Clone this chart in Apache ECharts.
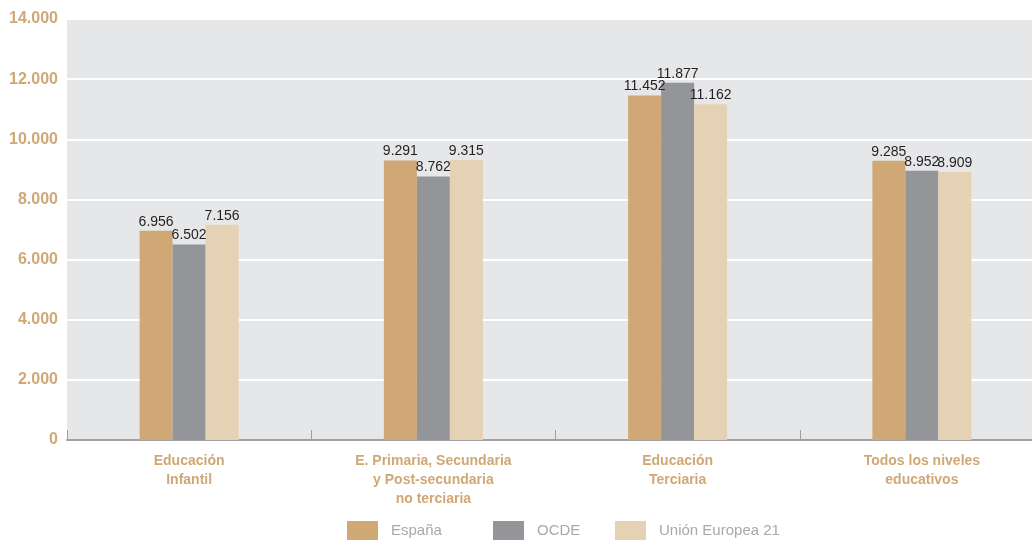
<!DOCTYPE html>
<html><head><meta charset="utf-8">
<script src="https://cdn.jsdelivr.net/npm/echarts@6/dist/echarts.min.js"></script>
<style>html,body{margin:0;padding:0;background:#fff;overflow:hidden}#c{width:1044px;height:540px}</style>
</head><body><div id="c"></div>
<script>
const categories = ["Educación\nInfantil", "E. Primaria, Secundaria\ny Post-secundaria\nno terciaria", "Educación\nTerciaria", "Todos los niveles\neducativos"];
const espana = [6956, 9291, 11452, 9285];
const ocde = [6502, 8762, 11877, 8952];
const ue21 = [7156, 9315, 11162, 8909];
const seriesNames = ["España", "OCDE", "Unión Europea 21"];
const yTicks = [0, 2000, 4000, 6000, 8000, 10000, 12000, 14000];

const FONT = '"Liberation Sans Narrow", "Arial Narrow", "Liberation Sans", Arial, sans-serif';
const fmt = v => String(v).replace(/\B(?=(\d{3})+(?!\d))/g, '.');
const colors = ['#cfa875', '#939598', '#e5d2b4'];
const legendLefts = [347, 493, 615];

const chart = echarts.init(document.getElementById('c'));
const mk = (name, data, i) => ({
  name, type: 'bar', data, barWidth: 33, barGap: '0%',
  itemStyle: { color: colors[i] },
  label: { show: true, position: 'top', distance: 2, color: '#231f20', fontSize: 14, fontFamily: FONT,
    formatter: p => fmt(p.value) }
});
chart.setOption({
  animation: false,
  grid: { left: 67, right: 0, top: 19, bottom: 100, show: true, backgroundColor: '#e6e7e8', borderWidth: 0 },
  legend: seriesNames.map((n, i) => ({
    top: 521, left: legendLefts[i], padding: 0, itemWidth: 31, itemHeight: 20, icon: 'rect',
    textStyle: { color: '#a7a9ac', fontSize: 15, fontFamily: FONT, padding: [10, 0, 0, 8] },
    data: [n] })),
  xAxis: { type: 'category', data: categories,
    axisLine: { lineStyle: { color: '#a0a0a0', width: 2 } },
    axisTick: { show: true, inside: true, length: 10, lineStyle: { color: '#a0a0a0', width: 1 } },
    axisLabel: { color: '#cfa875', fontWeight: 'bold', fontSize: 14, fontFamily: FONT, lineHeight: 19, margin: 12 } },
  yAxis: { type: 'value', min: 0, max: 14000, interval: 2000,
    axisLine: { show: false }, axisTick: { show: false },
    splitLine: { lineStyle: { color: '#ffffff', width: 2 } },
    axisLabel: { color: '#cfa875', fontWeight: 'bold', fontSize: 16, fontFamily: FONT, margin: 9,
      formatter: v => yTicks.includes(v) ? fmt(v) : '' } },
  series: [mk(seriesNames[0], espana, 0), mk(seriesNames[1], ocde, 1), mk(seriesNames[2], ue21, 2)]
});
</script></body></html>
